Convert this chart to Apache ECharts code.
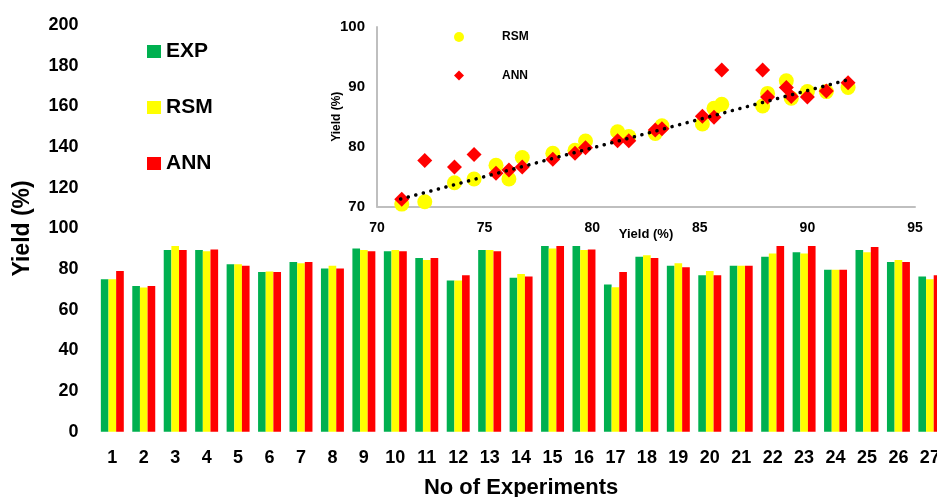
<!DOCTYPE html>
<html>
<head>
    <meta charset="utf-8">
    <title>Yield EXP / RSM / ANN</title>
    <script src="https://cdn.jsdelivr.net/npm/echarts@6/dist/echarts.min.js"></script>
</head>

<style>
    body
    {
        margin:0;
        background:#fff;
    }

    #main
    {
        width: 937px;
        height: 497px;
    }
</style>

<body>

    <div id="main"></div>

    <script type="text/javascript">

        // bar chart data
        var experiments = ['1','2','3','4','5','6','7','8','9','10','11','12','13','14','15','16','17','18','19','20','21','22','23','24','25','26','27'];
        var expYield = [75.0, 71.7, 89.4, 89.4, 82.4, 78.5, 83.5, 80.3, 90.1, 88.8, 85.5, 74.4, 89.4, 75.7, 91.4, 91.4, 72.4, 86.1, 81.6, 77.0, 81.6, 86.1, 88.3, 79.6, 89.4, 83.5, 76.3];
        var rsmYield = [75.0, 70.9, 91.4, 88.8, 82.4, 78.8, 82.9, 81.6, 89.4, 89.4, 84.4, 74.4, 89.4, 77.6, 90.1, 89.4, 71.1, 86.8, 82.9, 79.0, 81.6, 87.6, 87.6, 79.6, 88.3, 84.4, 75.0];
        var annYield = [79.0, 71.7, 89.4, 89.6, 81.6, 78.5, 83.5, 80.3, 88.8, 88.8, 85.5, 77.0, 88.8, 76.3, 91.4, 89.6, 78.5, 85.5, 80.9, 77.0, 81.6, 91.4, 91.4, 79.6, 90.8, 83.5, 77.0];

        // inset scatter data (x = experimental yield)
        var insetExp = [71.15, 72.22, 73.6, 74.51, 75.53, 76.13, 76.75, 78.17, 79.2, 79.69, 81.18, 81.7, 82.93, 83.24, 85.12, 85.66, 86.02, 87.92, 88.15, 89.02, 89.25, 90.0, 90.88, 91.89];
        var insetRsm = [70.4, 70.8, 73.98, 74.6, 76.9, 74.6, 78.2, 78.9, 79.4, 80.95, 82.5, 81.7, 82.2, 83.5, 83.8, 86.4, 87.1, 86.8, 88.9, 91.0, 88.1, 89.2, 89.2, 89.9];
        var insetAnn = [71.2, 77.7, 76.6, 78.7, 75.55, 76.1, 76.6, 77.9, 78.9, 79.8, 81.0, 81.0, 82.8, 83.0, 85.1, 84.9, 92.8, 92.8, 88.3, 89.9, 88.4, 88.3, 89.3, 90.7];

        // dotted trend line end points
        var trendX = [71.1, 91.9];
        var trendY = [71.25, 91.2];

        var font = 'Arial, "Liberation Sans", sans-serif';

        function pairs(xs, ys) {
            var out = [];
            for (var i = 0; i < xs.length; i++) {
                out.push([xs[i], ys[i]]);
            }
            return out;
        }

        var myChart = echarts.init(document.getElementById('main'));

        var option = {
            animation: false,
            backgroundColor: '#fff',
            textStyle: { fontFamily: font },
            legend: [
                {
                    orient: 'vertical',
                    left: 142,
                    top: 36,
                    itemWidth: 14,
                    itemHeight: 13,
                    itemGap: 35,
                    textStyle: { fontSize: 21, fontWeight: 'bold', color: '#000', fontFamily: font },
                    data: [
                        { name: 'EXP', icon: 'rect' },
                        { name: 'RSM', icon: 'rect' },
                        { name: 'ANN', icon: 'rect' }
                    ]
                },
                {
                    orient: 'vertical',
                    left: 449,
                    top: 26,
                    itemWidth: 10,
                    itemHeight: 10,
                    itemGap: 26.6,
                    textStyle: { fontSize: 12, fontWeight: 'bold', color: '#000', fontFamily: font, padding: [0, 0, 0, 33] },
                    data: [
                        { name: 'RSM', icon: 'circle' },
                        { name: 'ANN', icon: 'diamond' }
                    ]
                }
            ],
            grid: [
                { left: 96.6, top: 25.1, width: 849, height: 406.6, outerBoundsMode: 'none' },
                { left: 377, top: 27, width: 538, height: 179.5, outerBoundsMode: 'none' }
            ],
            xAxis: [
                {
                    type: 'category',
                    gridIndex: 0,
                    data: experiments,
                    name: 'No of Experiments',
                    nameLocation: 'middle',
                    nameGap: 45,
                    nameMoveOverlap: false,
                    nameTextStyle: { fontSize: 22, fontWeight: 'bold', color: '#000', fontFamily: font },
                    axisLine: { show: false },
                    axisTick: { show: false },
                    axisLabel: { fontSize: 18, fontWeight: 'bold', color: '#000', margin: 17, fontFamily: font }
                },
                {
                    type: 'value',
                    gridIndex: 1,
                    min: 70,
                    max: 95,
                    interval: 5,
                    name: 'Yield (%)',
                    nameLocation: 'middle',
                    nameGap: 21,
                    nameMoveOverlap: false,
                    nameTextStyle: { fontSize: 13, fontWeight: 'bold', color: '#000', fontFamily: font },
                    axisLine: { show: true, lineStyle: { color: '#bfbfbf', width: 2 } },
                    axisTick: { show: false },
                    splitLine: { show: false },
                    axisLabel: { fontSize: 14, fontWeight: 'bold', color: '#000', margin: 15, fontFamily: font }
                }
            ],
            yAxis: [
                {
                    type: 'value',
                    gridIndex: 0,
                    min: 0,
                    max: 200,
                    interval: 20,
                    name: 'Yield (%)',
                    nameLocation: 'middle',
                    nameGap: 62,
                    nameMoveOverlap: false,
                    nameTextStyle: { fontSize: 23, fontWeight: 'bold', color: '#000', fontFamily: font },
                    axisLine: { show: false },
                    axisTick: { show: false },
                    splitLine: { show: false },
                    axisLabel: { fontSize: 18, fontWeight: 'bold', color: '#000', margin: 18, fontFamily: font }
                },
                {
                    type: 'value',
                    gridIndex: 1,
                    min: 70,
                    max: 100,
                    interval: 10,
                    name: 'Yield (%)',
                    nameLocation: 'middle',
                    nameGap: 34,
                    nameMoveOverlap: false,
                    nameTextStyle: { fontSize: 12, fontWeight: 'bold', color: '#000', fontFamily: font },
                    axisLine: { show: true, lineStyle: { color: '#bfbfbf', width: 2 } },
                    axisTick: { show: false },
                    splitLine: { show: false },
                    axisLabel: { fontSize: 15, fontWeight: 'bold', color: '#000', margin: 12, fontFamily: font }
                }
            ],
            series: [
                {
                    name: 'EXP',
                    type: 'bar',
                    xAxisIndex: 0,
                    yAxisIndex: 0,
                    barGap: 0,
                    barCategoryGap: '27%',
                    itemStyle: { color: '#00b050' },
                    data: expYield
                },
                {
                    name: 'RSM',
                    type: 'bar',
                    xAxisIndex: 0,
                    yAxisIndex: 0,
                    itemStyle: { color: '#ffff00' },
                    data: rsmYield
                },
                {
                    name: 'ANN',
                    type: 'bar',
                    xAxisIndex: 0,
                    yAxisIndex: 0,
                    itemStyle: { color: '#ff0000' },
                    data: annYield
                },
                {
                    name: 'RSM',
                    type: 'scatter',
                    xAxisIndex: 1,
                    yAxisIndex: 1,
                    symbol: 'circle',
                    symbolSize: 15,
                    z: 3,
                    itemStyle: { color: '#ffff00', opacity: 1 },
                    data: pairs(insetExp, insetRsm)
                },
                {
                    name: 'ANN',
                    type: 'scatter',
                    xAxisIndex: 1,
                    yAxisIndex: 1,
                    symbol: 'diamond',
                    symbolSize: 15,
                    z: 4,
                    itemStyle: { color: '#ff0000', opacity: 1 },
                    data: pairs(insetExp, insetAnn)
                },
                {
                    name: 'trend',
                    type: 'line',
                    xAxisIndex: 1,
                    yAxisIndex: 1,
                    symbol: 'none',
                    z: 5,
                    lineStyle: { color: '#000', width: 3.5, type: [0.1, 7.7], cap: 'round' },
                    data: pairs(trendX, trendY)
                }
            ]
        };

        myChart.setOption(option);
    </script>

</body>
</html>
